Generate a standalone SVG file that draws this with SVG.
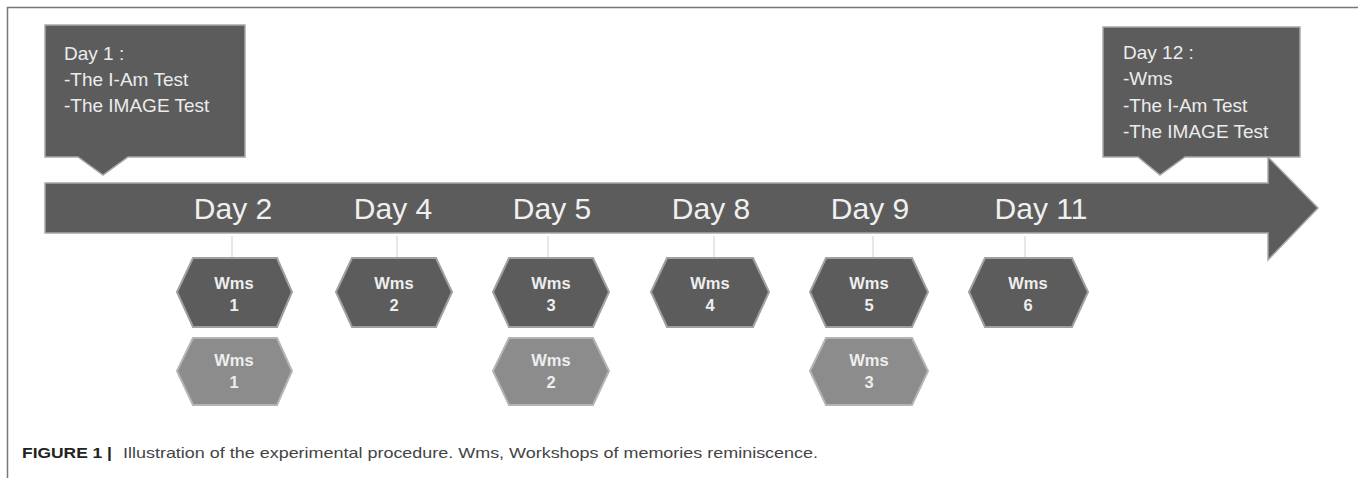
<svg xmlns="http://www.w3.org/2000/svg" width="1358" height="478" viewBox="0 0 1358 478">
<style>
.shape{fill:#5c5c5c;stroke:#a8a8a8;stroke-width:1.5}
.hexd{fill:#5c5c5c;stroke:#a0a0a0;stroke-width:2}
.hexl{fill:#8c8c8c;stroke:#b4b4b4;stroke-width:2}
.call{font-family:"Liberation Sans",Arial,sans-serif;font-size:19px;fill:#ececec}
.day{font-family:"Liberation Sans",Arial,sans-serif;font-size:30px;fill:#f0f0f0;text-anchor:middle}
.wms{font-family:"Liberation Sans",Arial,sans-serif;font-size:16.5px;font-weight:bold;fill:#eeeeee;text-anchor:middle}
.tick{stroke:#cfcfcf;stroke-width:1}
.cap{font-family:"Liberation Sans",Arial,sans-serif;font-size:14.5px;fill:#444}
</style>
<rect width="1358" height="478" fill="#ffffff"/>
<path d="M7.5 478 V7.5 H1358" fill="none" stroke="#777" stroke-width="1.5"/>
<g id="timeline">
<polygon class="shape" points="45,183 1268,183 1268,157 1318,208 1268,260 1268,233 45,233"/>
<text class="day" x="233" y="219">Day 2</text>
<text class="day" x="393" y="219">Day 4</text>
<text class="day" x="552" y="219">Day 5</text>
<text class="day" x="711" y="219">Day 8</text>
<text class="day" x="870" y="219">Day 9</text>
<text class="day" x="1041" y="219">Day 11</text>
</g>
<g id="day1">
<polygon class="shape" points="45,25 245,25 245,157 128,157 103,175 78,157 45,157"/>
<text class="call" x="64" y="60">Day 1 :</text>
<text class="call" x="64" y="86">-The I-Am Test</text>
<text class="call" x="64" y="112">-The IMAGE Test</text>
</g>
<g id="day12">
<polygon class="shape" points="1103,27 1300,27 1300,157 1185,157 1160,175 1138,157 1103,157"/>
<text class="call" x="1123" y="59">Day 12 :</text>
<text class="call" x="1123" y="85">-Wms</text>
<text class="call" x="1123" y="112">-The I-Am Test</text>
<text class="call" x="1123" y="138">-The IMAGE Test</text>
</g>
<g id="connectors">
<line class="tick" x1="232" y1="236" x2="232" y2="258"/>
<line class="tick" x1="397" y1="236" x2="397" y2="258"/>
<line class="tick" x1="548" y1="236" x2="548" y2="258"/>
<line class="tick" x1="714" y1="236" x2="714" y2="258"/>
<line class="tick" x1="873" y1="236" x2="873" y2="258"/>
<line class="tick" x1="1025" y1="236" x2="1025" y2="258"/>
</g>
<g id="wms1a">
<polygon class="hexd" points="177,292 193,258 277,258 292,292 277,327 193,327"/>
<text class="wms" x="234" y="289">Wms</text><text class="wms" x="234" y="311">1</text>
</g>
<g id="wms2a">
<polygon class="hexd" points="336,292 352,258 436,258 452,292 436,327 352,327"/>
<text class="wms" x="394" y="289">Wms</text><text class="wms" x="394" y="311">2</text>
</g>
<g id="wms3a">
<polygon class="hexd" points="493,292 509,258 593,258 609,292 593,327 509,327"/>
<text class="wms" x="551" y="289">Wms</text><text class="wms" x="551" y="311">3</text>
</g>
<g id="wms4a">
<polygon class="hexd" points="651,292 667,258 753,258 769,292 753,327 667,327"/>
<text class="wms" x="710" y="289">Wms</text><text class="wms" x="710" y="311">4</text>
</g>
<g id="wms5a">
<polygon class="hexd" points="810,292 826,258 912,258 928,292 912,327 826,327"/>
<text class="wms" x="869" y="289">Wms</text><text class="wms" x="869" y="311">5</text>
</g>
<g id="wms6a">
<polygon class="hexd" points="969,292 985,258 1072,258 1088,292 1072,327 985,327"/>
<text class="wms" x="1028" y="289">Wms</text><text class="wms" x="1028" y="311">6</text>
</g>
<g id="wms1b">
<polygon class="hexl" points="177,371 193,338 277,338 292,371 277,405 193,405"/>
<text class="wms" x="234" y="366">Wms</text><text class="wms" x="234" y="388">1</text>
</g>
<g id="wms2b">
<polygon class="hexl" points="493,371 509,338 593,338 609,371 593,405 509,405"/>
<text class="wms" x="551" y="366">Wms</text><text class="wms" x="551" y="388">2</text>
</g>
<g id="wms3b">
<polygon class="hexl" points="810,371 826,338 912,338 928,371 912,405 826,405"/>
<text class="wms" x="869" y="366">Wms</text><text class="wms" x="869" y="388">3</text>
</g>
<g id="caption">
<text class="cap" x="22" y="458"><tspan font-weight="bold" fill="#222" textLength="90" lengthAdjust="spacingAndGlyphs">FIGURE 1 |</tspan></text>
<text class="cap" x="123" y="458" textLength="695" lengthAdjust="spacingAndGlyphs">Illustration of the experimental procedure. Wms, Workshops of memories reminiscence.</text>
</g>
</svg>
